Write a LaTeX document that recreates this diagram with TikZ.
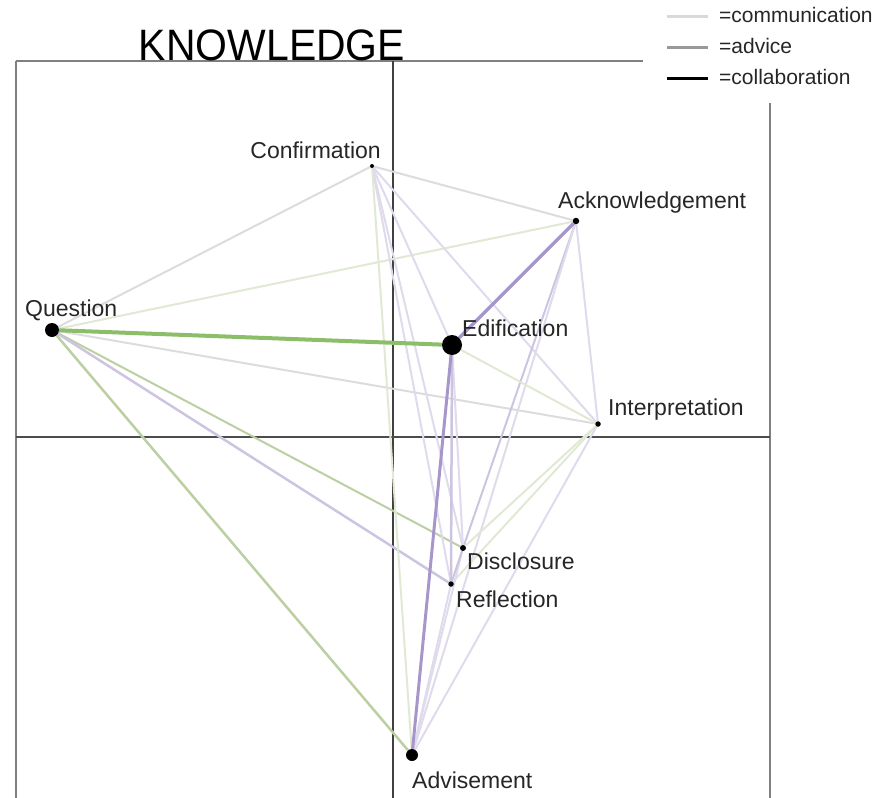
\documentclass[tikz,border=0pt]{standalone}
\usepackage{fontspec}
\setmainfont{Liberation Sans}
\usetikzlibrary{backgrounds}
\definecolor{gfaint}{HTML}{E0E9D4}
\definecolor{gmed}{HTML}{BCCFA2}
\definecolor{gstrong}{HTML}{8CBD68}
\definecolor{grayone}{HTML}{DEDBDE}
\definecolor{lfaint}{HTML}{DFDAEC}
\definecolor{lmed}{HTML}{CCC4E0}
\definecolor{purp}{HTML}{A696CA}
\begin{document}
\begin{tikzpicture}[x=1pt,y=-1pt,
  dot/.style={circle,fill=black,inner sep=0pt,minimum size=#1},
  lbl/.style={font=\fontsize{23}{26}\selectfont,text=black!85,inner sep=0pt},
  leg/.style={font=\fontsize{21}{24}\selectfont,text=black!85,inner sep=0pt,anchor=base west},
  framel/.style={draw=black!50,line width=2pt},
  edge/.style={line width=2pt}]
\useasboundingbox (0,0) rectangle (887,798);

% nodes (dots)
\node[dot=14pt] (q) at (52,330) {};
\node[dot=20pt] (ed) at (452,345) {};
\node[dot=12pt] (adv) at (412,755) {};
\node[dot=4pt] (conf) at (372,166) {};
\node[dot=6.5pt] (ack) at (576,221) {};
\node[dot=5.5pt] (int) at (598,424) {};
\node[dot=6pt] (dis) at (463,548) {};
\node[dot=5.5pt] (ref) at (451,584) {};

% labels
\node[lbl,anchor=base east] (conflbl) at (381,158) {Confirmation};
\node[lbl,anchor=base west] (acklbl) at (558,208) {Acknowledgement};
\node[lbl,anchor=base west] (qlbl) at (25,316) {Question};
\node[lbl,anchor=base west] (edlbl) at (462,336) {Edification};
\node[lbl,anchor=base west] (intlbl) at (608,415) {Interpretation};
\node[lbl,anchor=base west] (dislbl) at (467,569) {Disclosure};
\node[lbl,anchor=base west] (reflbl) at (456,607) {Reflection};
\node[lbl,anchor=base west] (advlbl) at (412,788) {Advisement};

% title
\node[font=\fontsize{44}{48}\selectfont,text=black,inner sep=0pt,anchor=base] (title) at (272,60) {\scalebox{0.93}[1]{KNOWLEDGE}};

% legend
\coordinate (la1) at (667,16); \coordinate (lb1) at (708,16);
\coordinate (la2) at (667,47); \coordinate (lb2) at (708,47);
\coordinate (la3) at (667,78); \coordinate (lb3) at (708,78);
\draw[line width=3pt,black!15] (la1) -- (lb1);
\draw[line width=3pt,black!40] (la2) -- (lb2);
\draw[line width=3pt,black] (la3) -- (lb3);
\node[leg] (t1) at (719,22) {=communication};
\node[leg] (t2) at (719,53) {=advice};
\node[leg] (t3) at (719,84) {=collaboration};

\begin{scope}[on background layer]
% frame
\draw[framel] (16,61) -- (643,61);
\draw[framel] (16,61) -- (16,798);
\draw[framel] (770,103) -- (770,798);
\draw[black!75,line width=1.5pt] (393,61) -- (393,798);
\draw[black!70,line width=2pt] (16,437) -- (770,437);

% edges
\draw[edge,grayone] (q) -- (conf);
\draw[edge,gfaint] (q) -- (ack);
\draw[edge,grayone] (q) -- (int);
\draw[edge,gmed] (q) -- (dis);
\draw[edge,lmed,line width=2.5pt] (q) -- (ref);
\draw[edge,gmed,line width=2.5pt] (q) -- (adv);
\draw[edge,grayone] (conf) -- (ack);
\draw[edge,lfaint] (conf) -- (ed);
\draw[edge,lfaint] (conf) -- (int);
\draw[edge,lfaint] (conf) -- (dis);
\draw[edge,lfaint] (conf) -- (ref);
\draw[edge,gfaint] (conf) -- (adv);
\draw[edge,lfaint] (ack) -- (int);
\draw[edge,lmed] (ack) -- (dis);
\draw[edge,lfaint] (ack) -- (adv);
\draw[edge,gfaint] (ed) -- (int);
\draw[edge,lfaint] (ed) -- (dis);
\draw[edge,lmed,line width=2.5pt] (ed) -- (ref);
\draw[edge,gfaint] (int) -- (dis);
\draw[edge,gfaint] (int) -- (ref);
\draw[edge,lfaint] (int) -- (adv);
\draw[edge,lfaint] (dis) -- (adv);
\draw[edge,lfaint] (ref) -- (adv);
\draw[edge,lmed] (dis) -- (ref);
\draw[edge,purp,line width=3pt] (ed) -- (adv);
\draw[edge,purp,line width=3.5pt] (ack) -- (ed);
\draw[edge,gstrong,line width=4pt] (q) -- (ed);
\end{scope}
\end{tikzpicture}
\end{document}
